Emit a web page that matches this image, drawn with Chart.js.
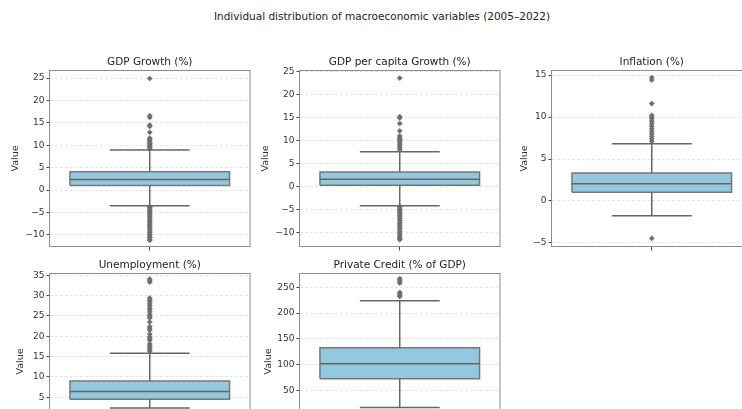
<!DOCTYPE html>
<html>
<head>
<meta charset="utf-8">
<script src="https://cdn.jsdelivr.net/npm/chart.js@4.4.0/dist/chart.umd.min.js"></script>
<style>
  html, body { margin: 0; padding: 0; background: #fff; width: 742px; height: 409px; overflow: hidden; }
  body { position: relative; font-family: "DejaVu Sans", sans-serif; }
  .suptitle { position: absolute; left: 0; width: 764px; top: 10px; text-align: center; font-size: 10.5px; color: #222; }
  canvas { position: absolute; }
</style>
</head>
<body>
<div class="suptitle">Individual distribution of macroeconomic variables (2005–2022)</div>
<canvas id="c0"></canvas>
<canvas id="c1"></canvas>
<canvas id="c2"></canvas>
<canvas id="c3"></canvas>
<canvas id="c4"></canvas>
<script>
// box statistics per variable
const titles = ['GDP Growth (%)', 'GDP per capita Growth (%)', 'Inflation (%)', 'Unemployment (%)', 'Private Credit (% of GDP)'];
const q1 = [1.05, 0.24, 1.03, 4.5, 72.9];
const median = [2.39, 1.55, 2.06, 6.4, 102];
const q3 = [4.08, 3.14, 3.33, 9.0, 133];
const whiskLo = [-3.5, -4.2, -1.75, 2.36, 17.4];
const whiskHi = [8.93, 7.56, 6.82, 15.8, 224];

const outGdp = [24.9, 16.6, 16.2, 14.5, 14.2, 12.9, 11.6, 11.3, 11.0, 10.7, 10.4, 10.1, 9.8, 9.5, 9.2,
  -3.7, -3.9, -4.2, -4.5, -4.8, -5.1, -5.4, -5.8, -6.1, -6.5, -6.9, -7.2, -7.6, -8.0, -8.3, -8.7, -9.1, -9.5, -9.9, -10.3, -10.6, -11.0, -11.2];
const outGdpPc = [23.6, 15.2, 14.9, 13.7, 12.1, 11.0, 10.6, 10.3, 10.0, 9.6, 9.2, 8.8, 8.4, 8.0,
  -4.4, -4.7, -5.0, -5.3, -5.6, -5.9, -6.3, -6.6, -7.0, -7.4, -7.9, -8.2, -8.6, -9.0, -9.3, -9.8, -10.2, -10.6, -11.0, -11.3, -11.6];
const outInfl = [14.7, 14.4, 11.6, 10.2, 10.0, 9.8, 9.5, 9.2, 8.9, 8.6, 8.3, 8.0, 7.7, 7.4, 7.1, -4.45];
const outUnemp = [16.3, 16.8, 17.2, 17.6, 18.1, 19.0, 19.4, 19.8, 20.5, 21.5, 22.0, 22.4, 23.5, 24.5, 24.9, 25.3, 26.0, 26.5, 26.9, 27.5, 28.0, 28.6, 29.0, 29.4, 33.3, 33.7, 34.1];
const outCredit = [267, 264, 261, 258, 240, 237, 234, 232];
const outliers = [outGdp, outGdpPc, outInfl, outUnemp, outCredit];

// y axis limits and tick steps
const yMin = [-12.7, -13.2, -5.48, -8.0, -65];
const yMax = [26.8, 25.37, 15.6, 35.57, 277.7];
const yStep = [5, 5, 5, 5, 50];

// panel placement (plot area left/top) and label offsets
const panelPos = [[50, 70], [300, 70], [552, 70], [50, 273], [300, 273]];
const labelPad = [10, 10, 17, 15, 12.6];
const PW = 201, PH = 177, AXW = 50, TOPH = 16, BOTH = 10, RPAD = 3;
const BOX_HALF = 0.4, CAP_HALF = 0.2;

const FILL = '#93c9de', LINE = '#666666', BOXEDGE = '#777777', DOT = '#6e6e6e';

const frame = {
  id: 'frame',
  afterDraw(chart) {
    const { ctx, chartArea: a } = chart;
    ctx.save();
    ctx.strokeStyle = '#8c8c8c';
    ctx.lineWidth = 1;
    ctx.strokeRect(Math.round(a.left) - 0.5, Math.round(a.top) + 0.5, Math.round(a.right - a.left) + 0.5, Math.round(a.bottom - a.top) - 1);
    ctx.restore();
  }
};

const fmtTick = v => v < 0 ? '\u2212' + Math.abs(v) : String(v);

titles.forEach((t, i) => {
  const cv = document.getElementById('c' + i);
  const [L, T] = panelPos[i];
  cv.width = AXW + PW + RPAD;
  cv.height = TOPH + PH + BOTH;
  cv.style.left = (L - AXW) + 'px';
  cv.style.top = (T - TOPH) + 'px';

  const seg = (pts, color, w) => ({
    type: 'line', data: pts, showLine: true,
    borderColor: color, borderWidth: w, pointRadius: 0, fill: false
  });

  new Chart(cv, {
    type: 'scatter',
    data: {
      datasets: [
        // median
        seg([{ x: -BOX_HALF, y: median[i] }, { x: BOX_HALF, y: median[i] }], LINE, 1.5),
        // whiskers and caps
        seg([{ x: 0, y: q3[i] }, { x: 0, y: whiskHi[i] }], LINE, 1.5),
        seg([{ x: 0, y: q1[i] }, { x: 0, y: whiskLo[i] }], LINE, 1.5),
        seg([{ x: -CAP_HALF, y: whiskHi[i] }, { x: CAP_HALF, y: whiskHi[i] }], LINE, 1.5),
        seg([{ x: -CAP_HALF, y: whiskLo[i] }, { x: CAP_HALF, y: whiskLo[i] }], LINE, 1.5),
        // outliers
        {
          type: 'scatter',
          data: outliers[i].map(v => ({ x: 0, y: v })),
          pointStyle: 'rectRot', pointRadius: 2.6,
          backgroundColor: DOT, borderColor: DOT, borderWidth: 0.5
        },
        // box outline
        seg([{ x: -BOX_HALF, y: q1[i] }, { x: BOX_HALF, y: q1[i] }, { x: BOX_HALF, y: q3[i] },
             { x: -BOX_HALF, y: q3[i] }, { x: -BOX_HALF, y: q1[i] }], BOXEDGE, 1.5),
        // box fill
        {
          type: 'line', data: [{ x: -BOX_HALF, y: q3[i] }, { x: BOX_HALF, y: q3[i] }],
          showLine: true, borderWidth: 0, pointRadius: 0,
          fill: { value: q1[i] }, backgroundColor: FILL
        }
      ]
    },
    options: {
      responsive: false,
      animation: false,
      devicePixelRatio: 1,
      layout: { padding: { left: 0, right: RPAD, top: 0, bottom: 0 } },
      plugins: {
        legend: { display: false },
        tooltip: { enabled: false },
        title: {
          display: true, text: t, color: '#222', fullSize: false,
          font: { family: 'DejaVu Sans', size: 10.5, weight: 'normal', lineHeight: '12px' },
          padding: { top: 2, bottom: 2 }
        }
      },
      scales: {
        x: {
          type: 'linear', min: -0.5, max: 0.5,
          afterBuildTicks: s => { s.ticks = [{ value: 0 }]; },
          grid: { display: true, drawOnChartArea: false, drawTicks: true, tickLength: 3.5, tickColor: '#444', tickWidth: 1 },
          border: { display: false },
          ticks: { display: true, padding: 0, font: { size: 1 }, callback: () => '' },
          afterFit: s => { s.height = BOTH; }
        },
        y: {
          min: yMin[i], max: yMax[i],
          grid: { color: '#dcdcdc', lineWidth: 0.8, tickColor: '#444', tickLength: 3.5, tickWidth: 1, tickBorderDash: [] },
          border: { display: false, dash: [3, 2] },
          ticks: {
            stepSize: yStep[i], includeBounds: false, padding: 2, color: '#333',
            font: { family: 'DejaVu Sans', size: 9 },
            callback: v => fmtTick(v)
          },
          title: {
            display: true, text: 'Value', color: '#333',
            font: { family: 'DejaVu Sans', size: 9.5 },
            padding: { top: labelPad[i], bottom: 0 }
          },
          afterFit: s => { s.width = AXW; }
        }
      }
    },
    plugins: [frame]
  });
});
</script>
</body>
</html>
